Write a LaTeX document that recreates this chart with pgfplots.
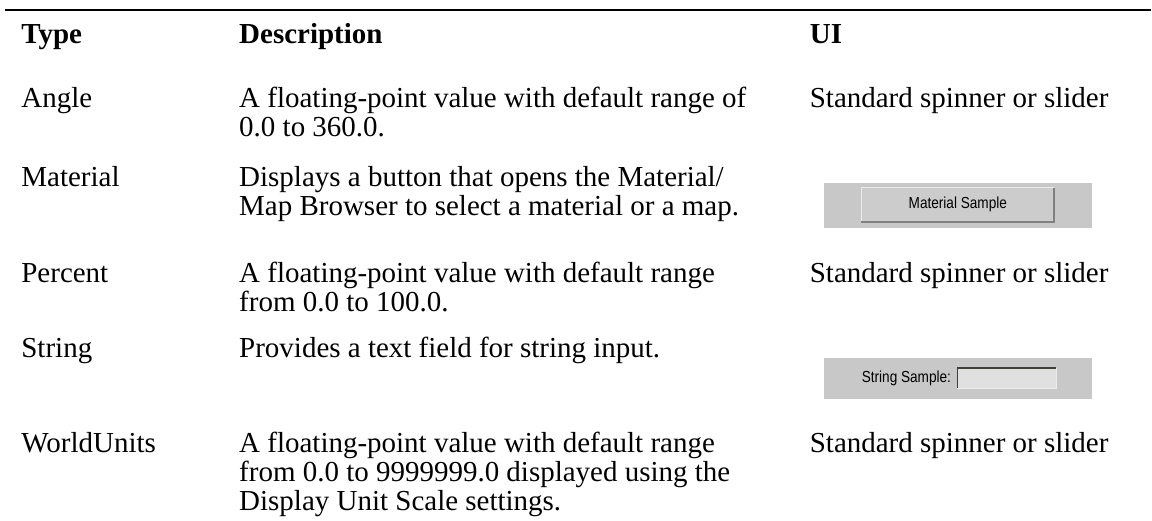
\documentclass[border=0pt]{standalone}
\usepackage{fontspec}
\setmainfont{Liberation Serif}
\newfontfamily\uisans{Liberation Sans}
\usepackage{pgfplots}
\pgfplotsset{compat=1.18}
\definecolor{panel}{RGB}{200,200,200}
\definecolor{btnface}{RGB}{204,204,204}
\definecolor{hilite}{RGB}{235,235,235}
\definecolor{shadow}{RGB}{128,128,128}
\definecolor{field}{RGB}{224,224,224}
\definecolor{fieldedge}{RGB}{64,64,48}
\begin{document}
\begin{tikzpicture}
\begin{axis}[
  scale only axis, width=576pt, height=260.5pt,
  xmin=0, xmax=1152, ymin=0, ymax=521, y dir=reverse,
  axis lines=none, clip=false,
]
\path (axis cs:0,0) rectangle (axis cs:1152,521);
\draw[line width=0.8pt] (axis cs:5,10) -- (axis cs:1152,10);
\tikzset{t/.style={anchor=base west, inner sep=0pt, font=\fontsize{14.5}{16}\selectfont},
         b/.style={anchor=base west, inner sep=0pt, font=\fontsize{14.5}{16}\selectfont\bfseries}}
% header
\node[b] at (axis cs:21,44) {Type};
\node[b] at (axis cs:239,44) {Description};
\node[b] at (axis cs:810,44) {UI};
% Angle
\node[t] at (axis cs:21,108) {Angle};
\node[t] at (axis cs:239,108) {A floating-point value with default range of};
\node[t] at (axis cs:239,137) {0.0 to 360.0.};
\node[t] at (axis cs:810,108) {Standard spinner or slider};
% Material
\node[t] at (axis cs:21,187) {Material};
\node[t] at (axis cs:239,187) {Displays a button that opens the Material/};
\node[t] at (axis cs:239,216) {Map Browser to select a material or a map.};
\fill[panel] (axis cs:825,183) rectangle (axis cs:1093,228);
\fill[btnface] (axis cs:862,188) rectangle (axis cs:1055,222);
\draw[hilite, line width=0.6pt] (axis cs:862,222) -- (axis cs:862,188) -- (axis cs:1055,188);
\draw[shadow, line width=0.8pt] (axis cs:862,222) -- (axis cs:1055,222) -- (axis cs:1055,188);
\node[inner sep=0pt, font=\uisans\fontsize{8}{9}\selectfont] at (axis cs:958.5,205) {\scalebox{0.85}[1]{Material Sample}};
% Percent
\node[t] at (axis cs:21,283) {Percent};
\node[t] at (axis cs:239,283) {A floating-point value with default range};
\node[t] at (axis cs:239,312) {from 0.0 to 100.0.};
\node[t] at (axis cs:810,283) {Standard spinner or slider};
% String
\node[t] at (axis cs:21,358) {String};
\node[t] at (axis cs:239,358) {Provides a text field for string input.};
\fill[panel] (axis cs:825,358) rectangle (axis cs:1093,399);
\fill[field] (axis cs:958,368) rectangle (axis cs:1057,389);
\draw[fieldedge, line width=0.8pt] (axis cs:958,389) -- (axis cs:958,368) -- (axis cs:1057,368);
\draw[hilite, line width=0.6pt] (axis cs:958,389) -- (axis cs:1057,389) -- (axis cs:1057,368);
\node[anchor=east, inner sep=0pt, font=\uisans\fontsize{8}{9}\selectfont] at (axis cs:952,379) {\scalebox{0.85}[1]{String Sample:}};
% WorldUnits
\node[t] at (axis cs:21,453) {WorldUnits};
\node[t] at (axis cs:239,453) {A floating-point value with default range};
\node[t] at (axis cs:239,482) {from 0.0 to 9999999.0 displayed using the};
\node[t] at (axis cs:239,511) {Display Unit Scale settings.};
\node[t] at (axis cs:810,453) {Standard spinner or slider};
\end{axis}
\end{tikzpicture}
\end{document}
